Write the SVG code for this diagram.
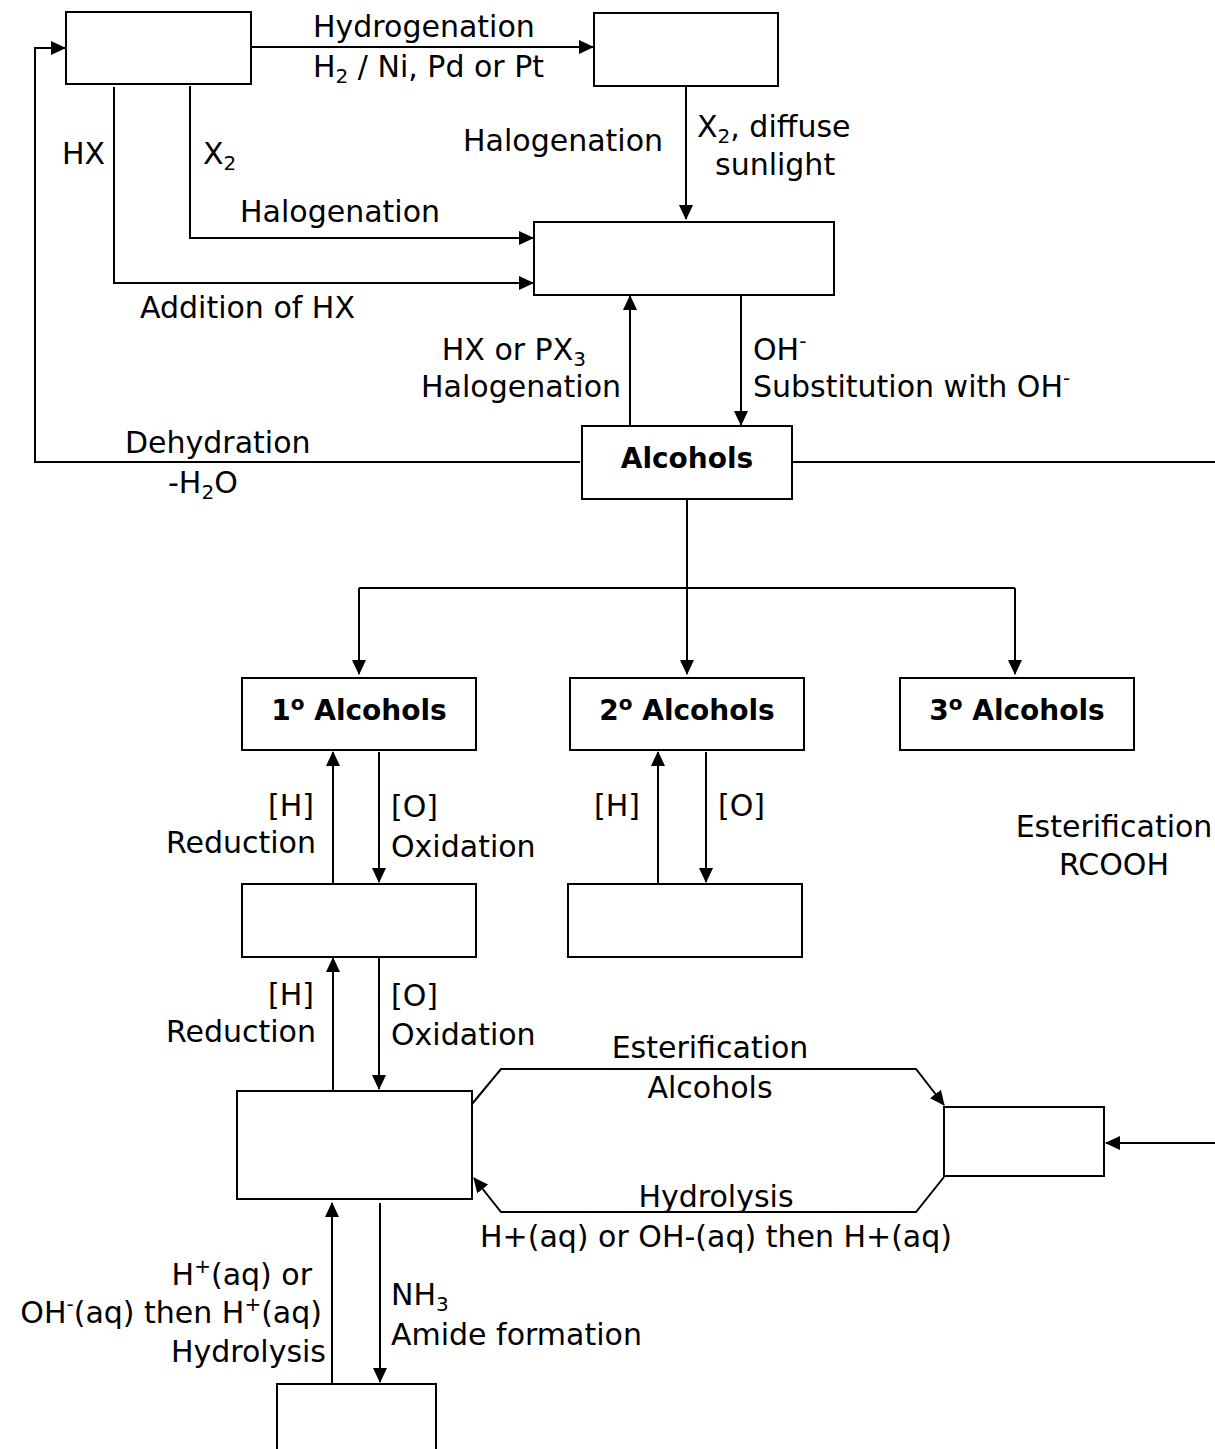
<svg xmlns="http://www.w3.org/2000/svg" width="1215" height="1449" viewBox="0 0 1215 1449">
<style>
.box{fill:#fff;stroke:#000;stroke-width:2}
.ln{fill:none;stroke:#000;stroke-width:2}
.arr{marker-end:url(#ah)}
text{font-family:"DejaVu Sans","Liberation Sans",sans-serif;font-size:30px;fill:#000}
.b{font-weight:bold;font-size:28px}
.m{text-anchor:middle}
.e{text-anchor:end}
.s{font-size:20px}
</style>
<defs>
<marker id="ah" markerWidth="15" markerHeight="14" refX="14" refY="7" orient="auto" markerUnits="userSpaceOnUse">
<path d="M0,0 L15,7 L0,14 Z" fill="#000"/>
</marker>
</defs>
<rect width="1215" height="1449" fill="#fff"/>
<g id="connectors">
<path class="ln arr" d="M251,47 H593"/>
<path class="ln arr" d="M580,462 H35 V48 H65"/>
<path class="ln" d="M792,462 H1215"/>
<path class="ln arr" d="M114,87 V283 H533"/>
<path class="ln arr" d="M190,86 V238 H533"/>
<path class="ln arr" d="M686,86 V219"/>
<path class="ln arr" d="M630,426 V296"/>
<path class="ln arr" d="M741,295 V425"/>
<path class="ln arr" d="M687,499 V674"/>
<path class="ln" d="M359,588 H1015"/>
<path class="ln arr" d="M359,588 V674"/>
<path class="ln arr" d="M1015,588 V674"/>
<path class="ln arr" d="M333,884 V752"/>
<path class="ln arr" d="M379,752 V882"/>
<path class="ln arr" d="M333,1091 V958"/>
<path class="ln arr" d="M379,958 V1089"/>
<path class="ln arr" d="M658,884 V752"/>
<path class="ln arr" d="M706,752 V882"/>
<path class="ln arr" d="M472,1104 L501,1069 H916 L944,1105"/>
<path class="ln arr" d="M944,1177 L916,1212 H501 L474,1178"/>
<path class="ln arr" d="M1215,1143 H1106"/>
<path class="ln arr" d="M332,1384 V1203"/>
<path class="ln arr" d="M380,1203 V1382"/>
</g>
<g id="nodeA"><rect class="box" x="66" y="12" width="185" height="72"/></g>
<g id="nodeB"><rect class="box" x="594" y="13" width="184" height="73"/></g>
<g id="nodeC"><rect class="box" x="534" y="222" width="300" height="73"/></g>
<g id="alcohols"><rect class="box" x="582" y="426" width="210" height="73"/><text class="b m" x="687" y="468">Alcohols</text></g>
<g id="primary"><rect class="box" x="242" y="678" width="234" height="72"/><text class="b m" x="359" y="720">1<tspan class="s" dy="-10">o</tspan><tspan dy="10"> Alcohols</tspan></text></g>
<g id="secondary"><rect class="box" x="570" y="678" width="234" height="72"/><text class="b m" x="687" y="720">2<tspan class="s" dy="-10">o</tspan><tspan dy="10"> Alcohols</tspan></text></g>
<g id="tertiary"><rect class="box" x="900" y="678" width="234" height="72"/><text class="b m" x="1017" y="720">3<tspan class="s" dy="-10">o</tspan><tspan dy="10"> Alcohols</tspan></text></g>
<g id="nodeD"><rect class="box" x="242" y="884" width="234" height="73"/></g>
<g id="nodeF"><rect class="box" x="568" y="884" width="234" height="73"/></g>
<g id="nodeE"><rect class="box" x="237" y="1091" width="235" height="108"/></g>
<g id="nodeG"><rect class="box" x="944" y="1107" width="160" height="69"/></g>
<g id="nodeH"><rect class="box" x="277" y="1384" width="159" height="80"/></g>
<g id="labels">
<text x="313" y="37">Hydrogenation</text>
<text x="313" y="77">H<tspan class="s" dy="6">2</tspan><tspan dy="-6"> / Ni, Pd or Pt</tspan></text>
<text class="e" x="663" y="151">Halogenation</text>
<text x="697" y="137">X<tspan class="s" dy="6">2</tspan><tspan dy="-6">, diffuse</tspan></text>
<text x="715" y="175">sunlight</text>
<text x="62" y="164">HX</text>
<text x="203" y="164">X<tspan class="s" dy="6">2</tspan></text>
<text x="240" y="222">Halogenation</text>
<text x="140" y="318">Addition of HX</text>
<text class="e" x="586" y="360">HX or PX<tspan class="s" dy="6">3</tspan></text>
<text class="e" x="621" y="397">Halogenation</text>
<text x="753" y="360">OH<tspan class="s" dy="-12">-</tspan></text>
<text x="753" y="397">Substitution with OH<tspan class="s" dy="-12">-</tspan></text>
<text x="125" y="453">Dehydration</text>
<text x="168" y="493">-H<tspan class="s" dy="6">2</tspan><tspan dy="-6">O</tspan></text>
<text class="e" x="314" y="816">[H]</text>
<text class="e" x="316" y="853">Reduction</text>
<text x="391" y="817">[O]</text>
<text x="391" y="857">Oxidation</text>
<text class="e" x="314" y="1005">[H]</text>
<text class="e" x="316" y="1042">Reduction</text>
<text x="391" y="1006">[O]</text>
<text x="391" y="1045">Oxidation</text>
<text class="e" x="640" y="816">[H]</text>
<text x="718" y="816">[O]</text>
<text class="m" x="1114" y="837">Esterification</text>
<text class="m" x="1114" y="875">RCOOH</text>
<text class="m" x="710" y="1058">Esterification</text>
<text class="m" x="710" y="1098">Alcohols</text>
<text class="m" x="716" y="1207">Hydrolysis</text>
<text class="m" x="716" y="1247">H+(aq) or OH-(aq) then H+(aq)</text>
<text class="e" x="312" y="1285">H<tspan class="s" dy="-12">+</tspan><tspan dy="12">(aq)  or</tspan></text>
<text class="e" x="322" y="1323">OH<tspan class="s" dy="-12">-</tspan><tspan dy="12">(aq) then H</tspan><tspan class="s" dy="-12">+</tspan><tspan dy="12">(aq)</tspan></text>
<text class="e" x="326" y="1362">Hydrolysis</text>
<text x="391" y="1305">NH<tspan class="s" dy="6">3</tspan></text>
<text x="391" y="1345">Amide formation</text>
</g>
</svg>
